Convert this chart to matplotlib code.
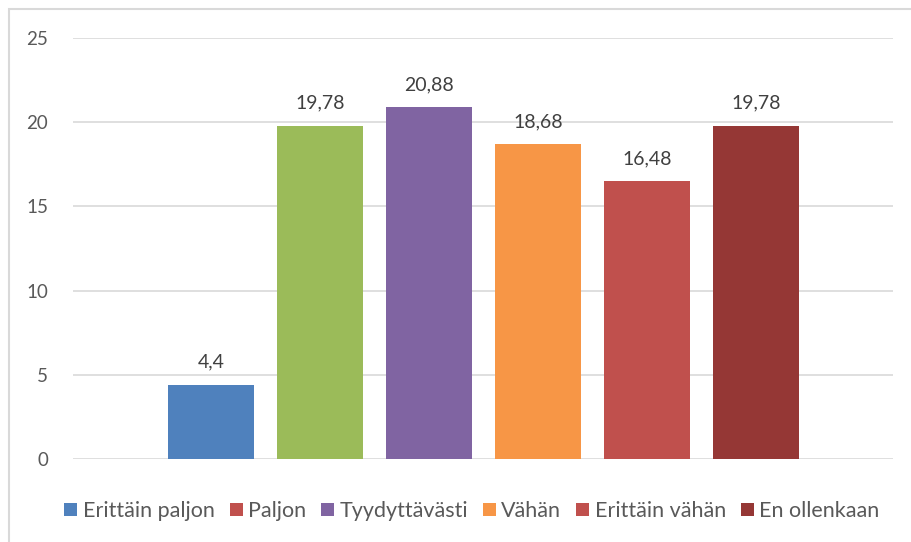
import matplotlib
matplotlib.use("Agg")
import matplotlib.pyplot as plt
from matplotlib.patches import Patch, Rectangle

plt.rcParams['font.family'] = ['Lato', 'DejaVu Sans']

# Data
categories = ["Erittäin paljon", "Paljon", "Tyydyttävästi", "Vähän", "Erittäin vähän", "En ollenkaan"]
values = [4.4, 19.78, 20.88, 18.68, 16.48, 19.78]
value_labels = ["4,4", "19,78", "20,88", "18,68", "16,48", "19,78"]
bar_colors = ["#4F81BD", "#9BBB59", "#8064A2", "#F79646", "#C0504D", "#953735"]
legend_colors = ["#4F81BD", "#C0504D", "#8064A2", "#F79646", "#C0504D", "#953735"]
yticks = [0, 5, 10, 15, 20, 25]

fig = plt.figure(figsize=(9.12, 5.42), dpi=100)
ax = fig.add_axes([73/912, 1 - 459/542, (893-73)/912, (459-38)/542])

x = list(range(len(values)))
bars = ax.bar(x, values, width=0.79, color=bar_colors, zorder=3)
for b, lab in zip(bars, value_labels):
    ax.text(b.get_x() + b.get_width()/2, b.get_height() + 0.85, lab,
            ha='center', va='bottom', fontsize=14, color='#404040')

ax.set_xlim(-1.266, 6.257)
ax.set_ylim(0, 25)
ax.set_yticks(yticks)
ax.set_yticklabels([str(t) for t in yticks], fontsize=13.5, color='#595959')
ax.set_xticks([])
ax.tick_params(axis='y', length=0, pad=18)
ax.grid(axis='y', color='#D9D9D9', linewidth=1.2, zorder=0)
for s in ax.spines.values():
    s.set_visible(False)

handles = [Patch(facecolor=c, edgecolor='none') for c in legend_colors]
fig.legend(handles, categories, loc='center', bbox_to_anchor=(472/912, 1 - 511/542),
           ncol=6, frameon=False, fontsize=15.5, handlelength=0.6, handleheight=0.6,
           handletextpad=0.25, columnspacing=0.7, labelcolor='#595959')

# outer chart border
fig.patches.append(Rectangle((9/912, -0.1), 1.2, 1 - 9/542 + 0.1, transform=fig.transFigure,
                             fill=False, edgecolor='#D9D9D9', linewidth=1.5))

fig.savefig("out.png", dpi=100)
